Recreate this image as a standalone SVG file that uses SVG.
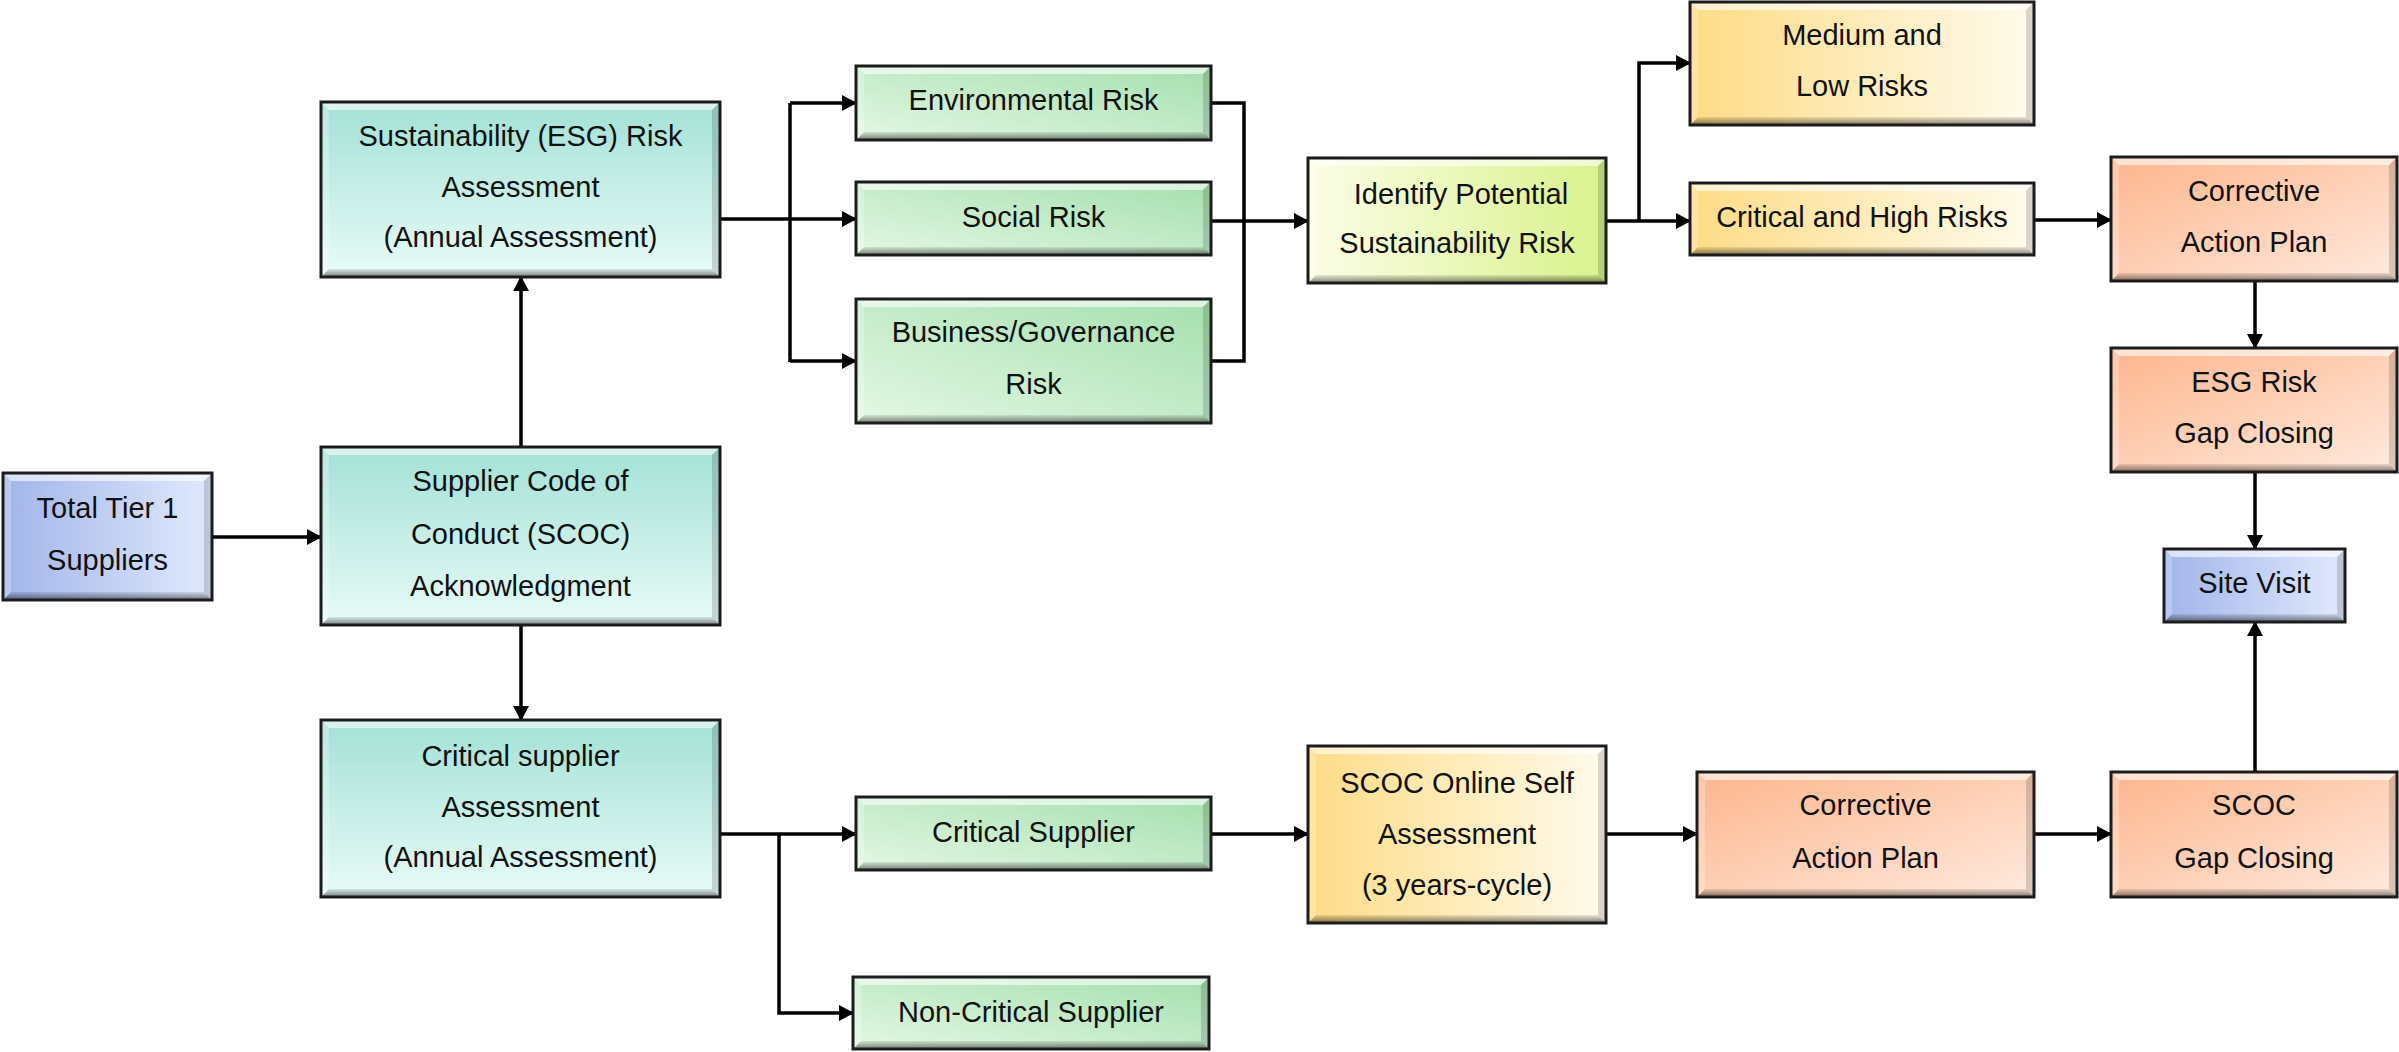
<svg xmlns="http://www.w3.org/2000/svg" width="2399" height="1052" viewBox="0 0 2399 1052">
<defs>
<linearGradient id="gTeal" x1="0" y1="0" x2="0" y2="1"><stop offset="0" stop-color="#a3e1d6"/><stop offset="1" stop-color="#e8fbf8"/></linearGradient>
<linearGradient id="gGreen" x1="0" y1="1" x2="1" y2="0"><stop offset="0" stop-color="#e4f8e4"/><stop offset="1" stop-color="#a4dfae"/></linearGradient>
<linearGradient id="gLime" x1="0" y1="0" x2="1" y2="0"><stop offset="0" stop-color="#fcfde6"/><stop offset="1" stop-color="#d9f28c"/></linearGradient>
<linearGradient id="gYellow" x1="0" y1="0" x2="1" y2="0"><stop offset="0" stop-color="#fedc86"/><stop offset="1" stop-color="#fffbec"/></linearGradient>
<linearGradient id="gOrange" x1="0" y1="0" x2="1" y2="1"><stop offset="0" stop-color="#fdb58c"/><stop offset="1" stop-color="#ffeade"/></linearGradient>
<linearGradient id="gBlue" x1="0" y1="0" x2="1" y2="0"><stop offset="0" stop-color="#a2b5ea"/><stop offset="1" stop-color="#e0e9fd"/></linearGradient>
<linearGradient id="gBot" x1="0" y1="0" x2="0" y2="1"><stop offset="0" stop-color="#000" stop-opacity="0.08"/><stop offset="1" stop-color="#000" stop-opacity="0.5"/></linearGradient>
<marker id="ah" markerUnits="userSpaceOnUse" markerWidth="16" markerHeight="16" refX="14" refY="8" orient="auto"><path d="M0,0 L15,8 L0,16 z" fill="#000"/></marker>
</defs>
<style>
.teal{fill:url(#gTeal)}.green{fill:url(#gGreen)}.lime{fill:url(#gLime)}.yellow{fill:url(#gYellow)}.orange{fill:url(#gOrange)}.blue{fill:url(#gBlue)}
.bt{fill:#fff;opacity:.6}.bl{fill:#fff;opacity:.25}.br{fill:#000;opacity:.15}.bb{fill:url(#gBot)}
.frame{fill:none;stroke:#1c1c1c;stroke-width:3}
text{font-family:"Liberation Sans",Arial,sans-serif;font-size:29px;fill:#111;text-anchor:middle}
.c{fill:none;stroke:#000;stroke-width:3.5}
.a{fill:none;stroke:#000;stroke-width:3.5;marker-end:url(#ah)}
</style>
<rect width="2399" height="1052" fill="#fff"/>
<g id="connectors">
<path class="a" d="M212,537 H321"/>
<path class="a" d="M521,447 V277"/>
<path class="a" d="M521,625 V720"/>
<path class="c" d="M720,219 H790 M790,103 V362"/>
<path class="a" d="M790,103 H856"/>
<path class="a" d="M790,219 H856"/>
<path class="a" d="M790,361 H856"/>
<path class="c" d="M1211,103 H1244 V361 H1211"/>
<path class="a" d="M1211,221 H1308"/>
<path class="a" d="M1606,221 H1690"/>
<path class="a" d="M1639,221 V63 H1690"/>
<path class="a" d="M2034,220 H2111"/>
<path class="a" d="M2255,281 V348"/>
<path class="a" d="M2255,472 V549"/>
<path class="a" d="M2255,772 V622"/>
<path class="a" d="M720,834 H856"/>
<path class="a" d="M779,834 V1013 H853"/>
<path class="a" d="M1211,834 H1308"/>
<path class="a" d="M1606,834 H1697"/>
<path class="a" d="M2034,834 H2111"/>
</g>
<g id="tier1">
<rect class="blue" x="3" y="473" width="209" height="127"/>
<polygon class="bt" points="3,473 212,473 204,481 11,481"/><polygon class="bb" points="3,600 212,600 204,592 11,592"/><polygon class="bl" points="3,473 11,481 11,592 3,600"/><polygon class="br" points="212,473 204,481 204,592 212,600"/>
<rect class="frame" x="3" y="473" width="209" height="127"/>
<text x="107.5" y="518">Total Tier 1</text><text x="107.5" y="570">Suppliers</text>
</g>
<g id="esg">
<rect class="teal" x="321" y="102" width="399" height="175"/>
<polygon class="bt" points="321,102 720,102 712,110 329,110"/><polygon class="bb" points="321,277 720,277 712,269 329,269"/><polygon class="bl" points="321,102 329,110 329,269 321,277"/><polygon class="br" points="720,102 712,110 712,269 720,277"/>
<rect class="frame" x="321" y="102" width="399" height="175"/>
<text x="520.5" y="146">Sustainability (ESG) Risk</text><text x="520.5" y="197">Assessment</text><text x="520.5" y="247">(Annual Assessment)</text>
</g>
<g id="scoc">
<rect class="teal" x="321" y="447" width="399" height="178"/>
<polygon class="bt" points="321,447 720,447 712,455 329,455"/><polygon class="bb" points="321,625 720,625 712,617 329,617"/><polygon class="bl" points="321,447 329,455 329,617 321,625"/><polygon class="br" points="720,447 712,455 712,617 720,625"/>
<rect class="frame" x="321" y="447" width="399" height="178"/>
<text x="520.5" y="491">Supplier Code of</text><text x="520.5" y="544">Conduct (SCOC)</text><text x="520.5" y="596">Acknowledgment</text>
</g>
<g id="critassess">
<rect class="teal" x="321" y="720" width="399" height="177"/>
<polygon class="bt" points="321,720 720,720 712,728 329,728"/><polygon class="bb" points="321,897 720,897 712,889 329,889"/><polygon class="bl" points="321,720 329,728 329,889 321,897"/><polygon class="br" points="720,720 712,728 712,889 720,897"/>
<rect class="frame" x="321" y="720" width="399" height="177"/>
<text x="520.5" y="766">Critical supplier</text><text x="520.5" y="817">Assessment</text><text x="520.5" y="867">(Annual Assessment)</text>
</g>
<g id="env">
<rect class="green" x="856" y="66" width="355" height="74"/>
<polygon class="bt" points="856,66 1211,66 1203,74 864,74"/><polygon class="bb" points="856,140 1211,140 1203,132 864,132"/><polygon class="bl" points="856,66 864,74 864,132 856,140"/><polygon class="br" points="1211,66 1203,74 1203,132 1211,140"/>
<rect class="frame" x="856" y="66" width="355" height="74"/>
<text x="1033.5" y="110">Environmental Risk</text>
</g>
<g id="social">
<rect class="green" x="856" y="182" width="355" height="73"/>
<polygon class="bt" points="856,182 1211,182 1203,190 864,190"/><polygon class="bb" points="856,255 1211,255 1203,247 864,247"/><polygon class="bl" points="856,182 864,190 864,247 856,255"/><polygon class="br" points="1211,182 1203,190 1203,247 1211,255"/>
<rect class="frame" x="856" y="182" width="355" height="73"/>
<text x="1033.5" y="227">Social Risk</text>
</g>
<g id="business">
<rect class="green" x="856" y="299" width="355" height="124"/>
<polygon class="bt" points="856,299 1211,299 1203,307 864,307"/><polygon class="bb" points="856,423 1211,423 1203,415 864,415"/><polygon class="bl" points="856,299 864,307 864,415 856,423"/><polygon class="br" points="1211,299 1203,307 1203,415 1211,423"/>
<rect class="frame" x="856" y="299" width="355" height="124"/>
<text x="1033.5" y="342">Business/Governance</text><text x="1033.5" y="394">Risk</text>
</g>
<g id="identify">
<rect class="lime" x="1308" y="158" width="298" height="125"/>
<polygon class="bt" points="1308,158 1606,158 1598,166 1316,166"/><polygon class="bb" points="1308,283 1606,283 1598,275 1316,275"/><polygon class="bl" points="1308,158 1316,166 1316,275 1308,283"/><polygon class="br" points="1606,158 1598,166 1598,275 1606,283"/>
<rect class="frame" x="1308" y="158" width="298" height="125"/>
<text x="1461" y="204">Identify Potential</text><text x="1457" y="253">Sustainability Risk</text>
</g>
<g id="medium">
<rect class="yellow" x="1690" y="2" width="344" height="123"/>
<polygon class="bt" points="1690,2 2034,2 2026,10 1698,10"/><polygon class="bb" points="1690,125 2034,125 2026,117 1698,117"/><polygon class="bl" points="1690,2 1698,10 1698,117 1690,125"/><polygon class="br" points="2034,2 2026,10 2026,117 2034,125"/>
<rect class="frame" x="1690" y="2" width="344" height="123"/>
<text x="1862" y="45">Medium and</text><text x="1862" y="96">Low Risks</text>
</g>
<g id="crithigh">
<rect class="yellow" x="1690" y="183" width="344" height="72"/>
<polygon class="bt" points="1690,183 2034,183 2026,191 1698,191"/><polygon class="bb" points="1690,255 2034,255 2026,247 1698,247"/><polygon class="bl" points="1690,183 1698,191 1698,247 1690,255"/><polygon class="br" points="2034,183 2026,191 2026,247 2034,255"/>
<rect class="frame" x="1690" y="183" width="344" height="72"/>
<text x="1862" y="227">Critical and High Risks</text>
</g>
<g id="cap1">
<rect class="orange" x="2111" y="157" width="286" height="124"/>
<polygon class="bt" points="2111,157 2397,157 2389,165 2119,165"/><polygon class="bb" points="2111,281 2397,281 2389,273 2119,273"/><polygon class="bl" points="2111,157 2119,165 2119,273 2111,281"/><polygon class="br" points="2397,157 2389,165 2389,273 2397,281"/>
<rect class="frame" x="2111" y="157" width="286" height="124"/>
<text x="2254" y="201">Corrective</text><text x="2254" y="252">Action Plan</text>
</g>
<g id="esggap">
<rect class="orange" x="2111" y="348" width="286" height="124"/>
<polygon class="bt" points="2111,348 2397,348 2389,356 2119,356"/><polygon class="bb" points="2111,472 2397,472 2389,464 2119,464"/><polygon class="bl" points="2111,348 2119,356 2119,464 2111,472"/><polygon class="br" points="2397,348 2389,356 2389,464 2397,472"/>
<rect class="frame" x="2111" y="348" width="286" height="124"/>
<text x="2254" y="392">ESG Risk</text><text x="2254" y="443">Gap Closing</text>
</g>
<g id="sitevisit">
<rect class="blue" x="2164" y="549" width="181" height="73"/>
<polygon class="bt" points="2164,549 2345,549 2337,557 2172,557"/><polygon class="bb" points="2164,622 2345,622 2337,614 2172,614"/><polygon class="bl" points="2164,549 2172,557 2172,614 2164,622"/><polygon class="br" points="2345,549 2337,557 2337,614 2345,622"/>
<rect class="frame" x="2164" y="549" width="181" height="73"/>
<text x="2254.5" y="593">Site Visit</text>
</g>
<g id="critsup">
<rect class="green" x="856" y="797" width="355" height="73"/>
<polygon class="bt" points="856,797 1211,797 1203,805 864,805"/><polygon class="bb" points="856,870 1211,870 1203,862 864,862"/><polygon class="bl" points="856,797 864,805 864,862 856,870"/><polygon class="br" points="1211,797 1203,805 1203,862 1211,870"/>
<rect class="frame" x="856" y="797" width="355" height="73"/>
<text x="1033.5" y="842">Critical Supplier</text>
</g>
<g id="noncrit">
<rect class="green" x="853" y="977" width="356" height="72"/>
<polygon class="bt" points="853,977 1209,977 1201,985 861,985"/><polygon class="bb" points="853,1049 1209,1049 1201,1041 861,1041"/><polygon class="bl" points="853,977 861,985 861,1041 853,1049"/><polygon class="br" points="1209,977 1201,985 1201,1041 1209,1049"/>
<rect class="frame" x="853" y="977" width="356" height="72"/>
<text x="1031" y="1022">Non-Critical Supplier</text>
</g>
<g id="scoconline">
<rect class="yellow" x="1308" y="746" width="298" height="177"/>
<polygon class="bt" points="1308,746 1606,746 1598,754 1316,754"/><polygon class="bb" points="1308,923 1606,923 1598,915 1316,915"/><polygon class="bl" points="1308,746 1316,754 1316,915 1308,923"/><polygon class="br" points="1606,746 1598,754 1598,915 1606,923"/>
<rect class="frame" x="1308" y="746" width="298" height="177"/>
<text x="1457" y="793">SCOC Online Self</text><text x="1457" y="844">Assessment</text><text x="1457" y="895">(3 years-cycle)</text>
</g>
<g id="cap2">
<rect class="orange" x="1697" y="772" width="337" height="125"/>
<polygon class="bt" points="1697,772 2034,772 2026,780 1705,780"/><polygon class="bb" points="1697,897 2034,897 2026,889 1705,889"/><polygon class="bl" points="1697,772 1705,780 1705,889 1697,897"/><polygon class="br" points="2034,772 2026,780 2026,889 2034,897"/>
<rect class="frame" x="1697" y="772" width="337" height="125"/>
<text x="1865.5" y="815">Corrective</text><text x="1865.5" y="868">Action Plan</text>
</g>
<g id="scocgap">
<rect class="orange" x="2111" y="772" width="286" height="125"/>
<polygon class="bt" points="2111,772 2397,772 2389,780 2119,780"/><polygon class="bb" points="2111,897 2397,897 2389,889 2119,889"/><polygon class="bl" points="2111,772 2119,780 2119,889 2111,897"/><polygon class="br" points="2397,772 2389,780 2389,889 2397,897"/>
<rect class="frame" x="2111" y="772" width="286" height="125"/>
<text x="2254" y="815">SCOC</text><text x="2254" y="868">Gap Closing</text>
</g>
</svg>
